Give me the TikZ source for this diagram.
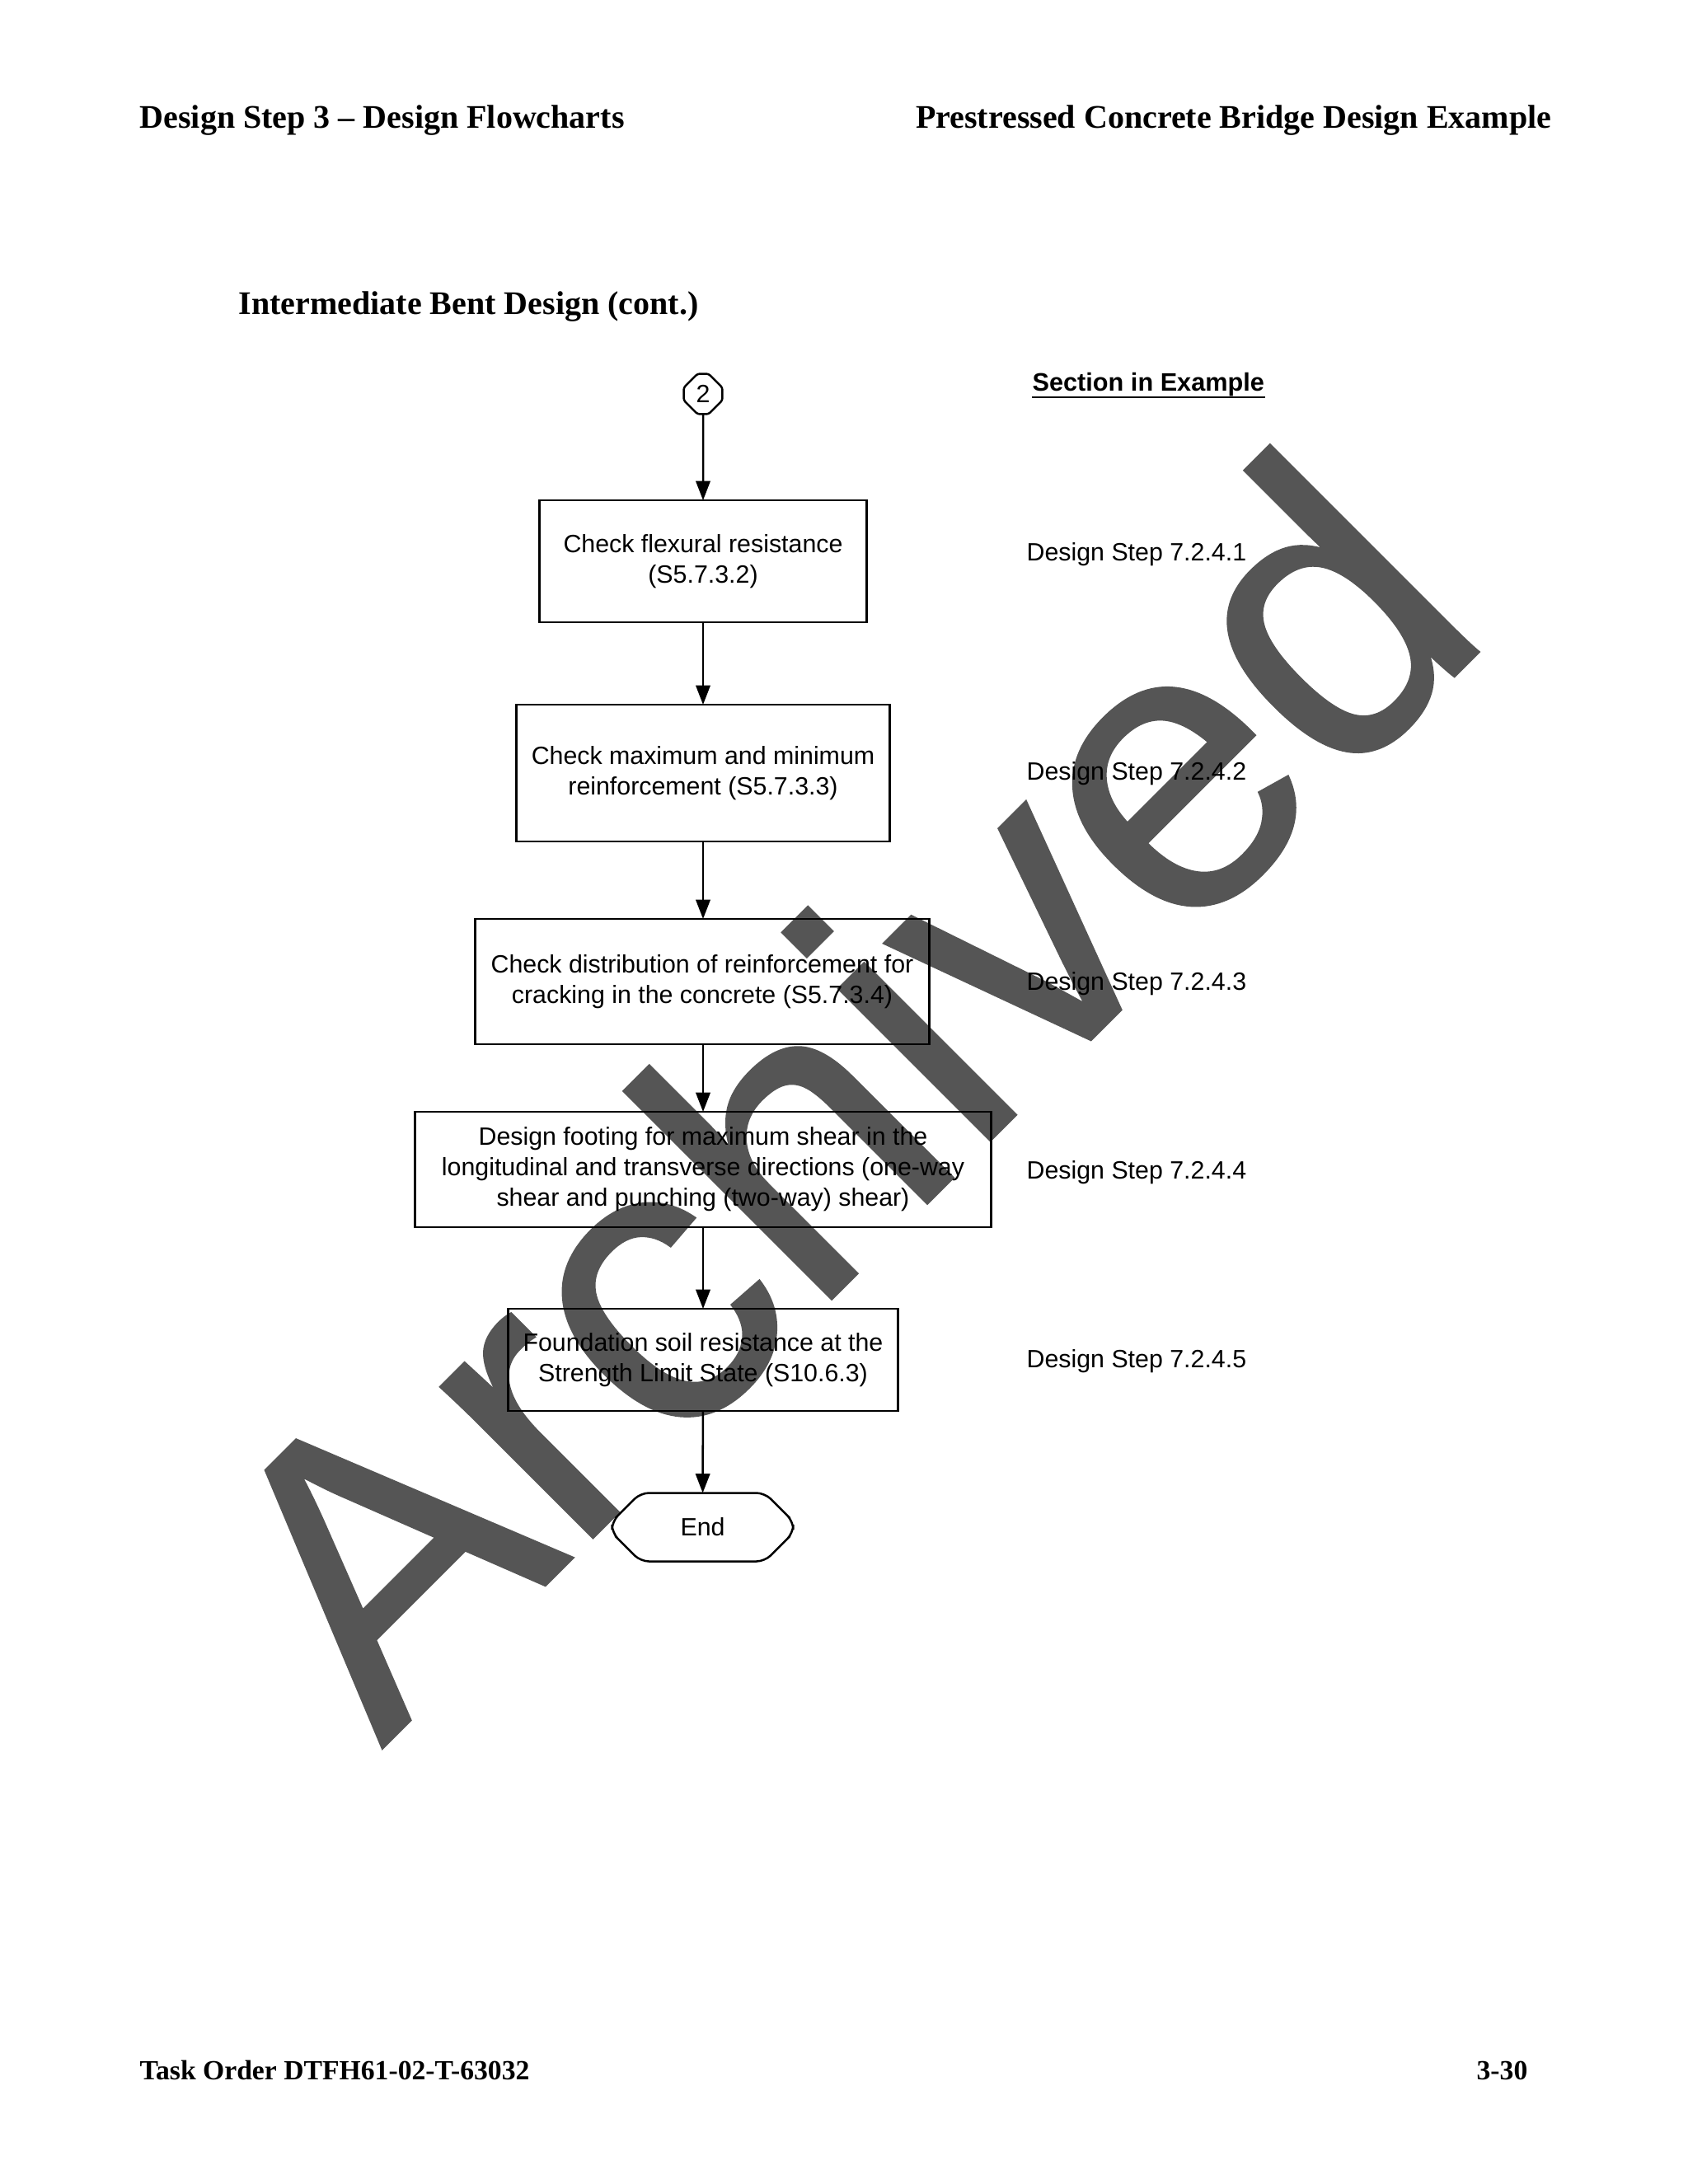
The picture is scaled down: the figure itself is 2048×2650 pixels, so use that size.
\documentclass[tikz,border=0pt]{standalone}
\usepackage{fontspec}
\setmainfont{Liberation Serif}
\setsansfont{Liberation Sans}
\newfontfamily\stampfont[FakeBold=0.7]{Liberation Sans}
\usetikzlibrary{shapes,shapes.misc,arrows.meta}
\definecolor{stampgray}{HTML}{555555}
\tikzstyle{basebox} = [draw=black, line width=0.75bp, rectangle, inner sep=0pt, outer sep=0pt, align=center, font=\sffamily\fontsize{9.1}{11.1}\selectfont]
\tikzstyle{stepbox} = [basebox, execute at begin node=\rule{0pt}{8.1bp}]
\tikzstyle{endbox} = [basebox, chamfered rectangle, chamfered rectangle xsep=8bp, chamfered rectangle ysep=7bp, rounded corners=3bp]
\tikzstyle{refnote} = [anchor=west, inner sep=0pt, font=\sffamily\fontsize{9.1}{11.1}\selectfont]
\tikzstyle{pagetext} = [inner sep=0pt, font=\bfseries\fontsize{12}{14}\selectfont]
\tikzstyle{flow} = [draw=black, line width=0.75bp, -{Triangle[length=7bp,width=5.2bp]}]

\begin{document}
\begin{tikzpicture}[x=0.2988bp,y=-0.2988bp]
\useasboundingbox (0,0) rectangle (2048,2650);

% watermark goes under everything
\node [anchor=base west, rotate=45, inner sep=0pt, text=stampgray, font=\stampfont\fontsize{147.5}{148}\selectfont] (stamp) at (463,2122) {Archived};

% page header and footer
\node [pagetext, anchor=west] (headleft) at (169,146) {Design Step 3 -- Design Flowcharts};
\node [pagetext, anchor=east] (headright) at (1883,146) {Prestressed Concrete Bridge Design Example};
\node [pagetext, anchor=west] (title) at (289,372) {Intermediate Bent Design (cont.)};
\node [pagetext, anchor=west, font=\bfseries\fontsize{10.1}{12}\selectfont] (footleft) at (169,2512) {Task Order DTFH61-02-T-63032};
\node [pagetext, anchor=east, font=\bfseries\fontsize{10.1}{12}\selectfont] (footright) at (1854,2512) {3-30};

% flowchart
\node [endbox, chamfered rectangle xsep=2.5bp, chamfered rectangle ysep=2.5bp, rounded corners=0.8bp, minimum width=14bp, minimum height=14.6bp] (start) at (853,478) {2};
\node [stepbox, minimum width=118.6bp, minimum height=44.2bp] (flexure) at (853,681) {Check flexural resistance\\(S5.7.3.2)};
\node [stepbox, minimum width=135.3bp, minimum height=49.6bp] (limits) at (853,938) {Check maximum and minimum\\reinforcement (S5.7.3.3)};
\node [stepbox, minimum width=164.6bp, minimum height=45.4bp] (cracking) at (852,1191) {Check distribution of reinforcement for\\cracking in the concrete (S5.7.3.4)};
\node [stepbox, minimum width=208.8bp, minimum height=41.8bp] (footing) at (853,1419) {Design footing for maximum shear in the\\longitudinal and transverse directions (one-way\\shear and punching (two-way) shear)};
\node [stepbox, minimum width=141.3bp, minimum height=37bp] (soil) at (853,1650) {Foundation soil resistance at the\\Strength Limit State (S10.6.3)};
\node [endbox, minimum width=65.7bp, minimum height=24.8bp] (finish) at (852.5,1853) {End};

\draw [flow] (start) -- (flexure);
\draw [flow] (flexure) -- (limits);
\draw [flow] (limits) -- (limits |- cracking.north);
\draw [flow] (cracking.south -| footing) -- (footing);
\draw [flow] (footing) -- (soil);
\draw [flow] (soil) -- (finish);

% section references
\node [refnote, font=\sffamily\bfseries\fontsize{9.2}{11}\selectfont] (sectionhead) at (1252,467) {Section in Example};
\draw [line width=0.75bp] (sectionhead.south west) -- (sectionhead.south east);
\node [refnote] (stepone) at (1245,673) {Design Step 7.2.4.1};
\node [refnote] (steptwo) at (1245,939) {Design Step 7.2.4.2};
\node [refnote] (stepthree) at (1245,1194) {Design Step 7.2.4.3};
\node [refnote] (stepfour) at (1245,1423) {Design Step 7.2.4.4};
\node [refnote] (stepfive) at (1245,1652) {Design Step 7.2.4.5};
\end{tikzpicture}
\end{document}
